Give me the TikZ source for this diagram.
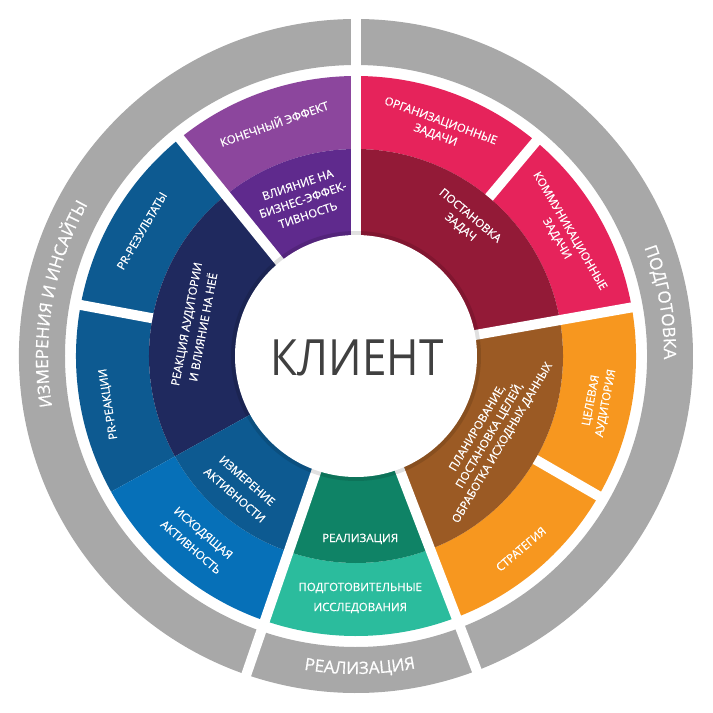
\documentclass[tikz,border=0pt]{standalone}
\usepackage{fontspec}
\setmainfont{Open Sans}
\newfontfamily\lblfont[FakeBold=0.6]{Open Sans}
\usetikzlibrary{decorations.text}

\definecolor{ringgrey}{HTML}{A8A8A8}
\definecolor{effectlight}{HTML}{8C469D}
\definecolor{effectdark}{HTML}{5F2A8D}
\definecolor{prblue}{HTML}{0D5A91}
\definecolor{audnavy}{HTML}{1F295E}
\definecolor{outblue}{HTML}{0670B8}
\definecolor{tealdark}{HTML}{0F8366}
\definecolor{teallight}{HTML}{2BBC9D}
\definecolor{planbrown}{HTML}{9B5A24}
\definecolor{stratorange}{HTML}{F7971F}
\definecolor{taskpink}{HTML}{E6235B}
\definecolor{taskred}{HTML}{931A37}

\newcommand{\ringfont}{\lblfont\fontsize{17}{17}\selectfont}

\tikzset{
  lbl/.style={text=white, align=center, inner sep=0pt, font=\lblfont\fontsize{11.5}{15}\selectfont},
  gapline/.style={draw=white, line width=10pt},
  ringtext/.style={decorate, decoration={text along path, text align=center, text color=white, text={|\ringfont|#1}}},
}

\newcommand{\ringsector}[5]{%
  \fill[#1] (#2:#4pt) arc[start angle=#2, end angle=#3, radius=#4pt]
    -- (#3:#5pt) arc[start angle=#3, end angle=#2, radius=#5pt] -- cycle;}

\begin{document}
\begin{tikzpicture}[x=1pt,y=1pt]
        \useasboundingbox (-356,-357) rectangle (357,356);

        \ringsector{ringgrey}{-69}{90}{291}{337}
        \ringsector{ringgrey}{90}{251}{291}{337}
        \ringsector{ringgrey}{251}{291}{291}{337}
        \draw[gapline] (90:286pt) -- (90:342pt);
        \draw[gapline] (251:286pt) -- (251:342pt);
        \draw[gapline] (291:286pt) -- (291:342pt);

        \ringsector{effectlight}{90}{129}{207}{280}
        \ringsector{prblue}{129}{209}{207}{280}
        \ringsector{outblue}{209}{251}{207}{280}
        \ringsector{teallight}{251}{291}{207}{280}
        \ringsector{stratorange}{291}{370}{207}{280}
        \ringsector{taskpink}{10}{90}{207}{280}

        \ringsector{effectdark}{90}{129}{110}{207}
        \ringsector{audnavy}{129}{209}{110}{207}
        \ringsector{prblue}{209}{251}{110}{207}
        \ringsector{tealdark}{251}{291}{110}{207}
        \ringsector{planbrown}{291}{370}{110}{207}
        \ringsector{taskred}{10}{90}{110}{207}

        \draw[gapline] (90:110pt) -- (90:284pt);
        \draw[gapline] (129:110pt) -- (129:284pt);
        \draw[gapline] (10:110pt) -- (10:284pt);
        \draw[gapline] (251:110pt) -- (251:284pt);
        \draw[gapline] (291:110pt) -- (291:284pt);
        \draw[gapline] (50:207pt) -- (50:284pt);
        \draw[gapline] (-30:207pt) -- (-30:284pt);
        \draw[gapline] (169.5:207pt) -- (169.5:284pt);

        \fill[black, opacity=0.12] (0,0) circle[radius=125pt];
        \fill[white] (0,0) circle[radius=121pt];

        \node[inner sep=0pt, text=black!75, xscale=0.88, font=\fontsize{50}{50}\selectfont] (klient) at (1,-2) {КЛИЕНТ};

        \node[lbl, rotate=19.4] (effect) at (109.4:247pt) {КОНЕЧНЫЙ ЭФФЕКТ};
        \node[lbl, rotate=18.8, font=\lblfont\fontsize{11.5}{16}\selectfont] (business) at (108.8:165pt) {ВЛИЯНИЕ НА\\БИЗНЕС-ЭФФЕК-\\ТИВНОСТЬ};
        \node[lbl, rotate=-20] (orgtask) at (70.2:242pt) {ОРГАНИЗАЦИОННЫЕ\\ЗАДАЧИ};
        \node[lbl, rotate=-59.7] (commtask) at (30.3:240pt) {КОММУНИКАЦИОННЫЕ\\ЗАДАЧИ};
        \node[lbl, rotate=-40] (settask) at (50.9:173pt) {ПОСТАНОВКА\\ЗАДАЧ};
        \node[lbl, rotate=79.3] (target) at (-10.7:247pt) {ЦЕЛЕВАЯ\\АУДИТОРИЯ};
        \node[lbl, rotate=40.5] (strategy) at (-49.5:254pt) {СТРАТЕГИЯ};
        \node[lbl, rotate=59.3, font=\lblfont\fontsize{11.5}{14.5}\selectfont] (planning) at (-30.7:156pt) {ПЛАНИРОВАНИЕ,\\ПОСТАНОВКА ЦЕЛЕЙ,\\ОБРАБОТКА ИСХОДНЫХ ДАННЫХ};
        \node[lbl] (realiz) at (-88.7:183pt) {РЕАЛИЗАЦИЯ};
        \node[lbl, font=\lblfont\fontsize{11.5}{20}\selectfont] (research) at (-89:242pt) {ПОДГОТОВИТЕЛЬНЫЕ\\ИССЛЕДОВАНИЯ};
        \node[lbl, rotate=-41, font=\lblfont\fontsize{11.5}{19}\selectfont] (measure) at (-131.1:175pt) {ИЗМЕРЕНИЕ\\АКТИВНОСТИ};
        \node[lbl, rotate=-40.8, font=\lblfont\fontsize{11.5}{19}\selectfont] (outgoing) at (-130.8:243pt) {ИСХОДЯЩАЯ\\АКТИВНОСТЬ};
        \node[lbl, rotate=99] (prreact) at (191:252pt) {PR-РЕАКЦИИ};
        \node[lbl, rotate=59.7] (prresult) at (149.7:248pt) {PR-РЕЗУЛЬТАТЫ};
        \node[lbl, rotate=79.3, font=\lblfont\fontsize{11.5}{17}\selectfont] (audience) at (169.3:164pt) {РЕАКЦИЯ АУДИТОРИИ\\И ВЛИЯНИЕ НА НЕЁ};

        \path[ringtext={ИЗМЕРЕНИЯ И ИНСАЙТЫ}] (200:308pt) arc[start angle=200, end angle=140, radius=308pt];
        \path[ringtext={ПОДГОТОВКА}] (40:308pt) arc[start angle=40, end angle=-20, radius=308pt];
        \path[ringtext={РЕАЛИЗАЦИЯ}] (-119.3:318pt) arc[start angle=-119.3, end angle=-59.3, radius=318pt];
    \end{tikzpicture}
\end{document}
